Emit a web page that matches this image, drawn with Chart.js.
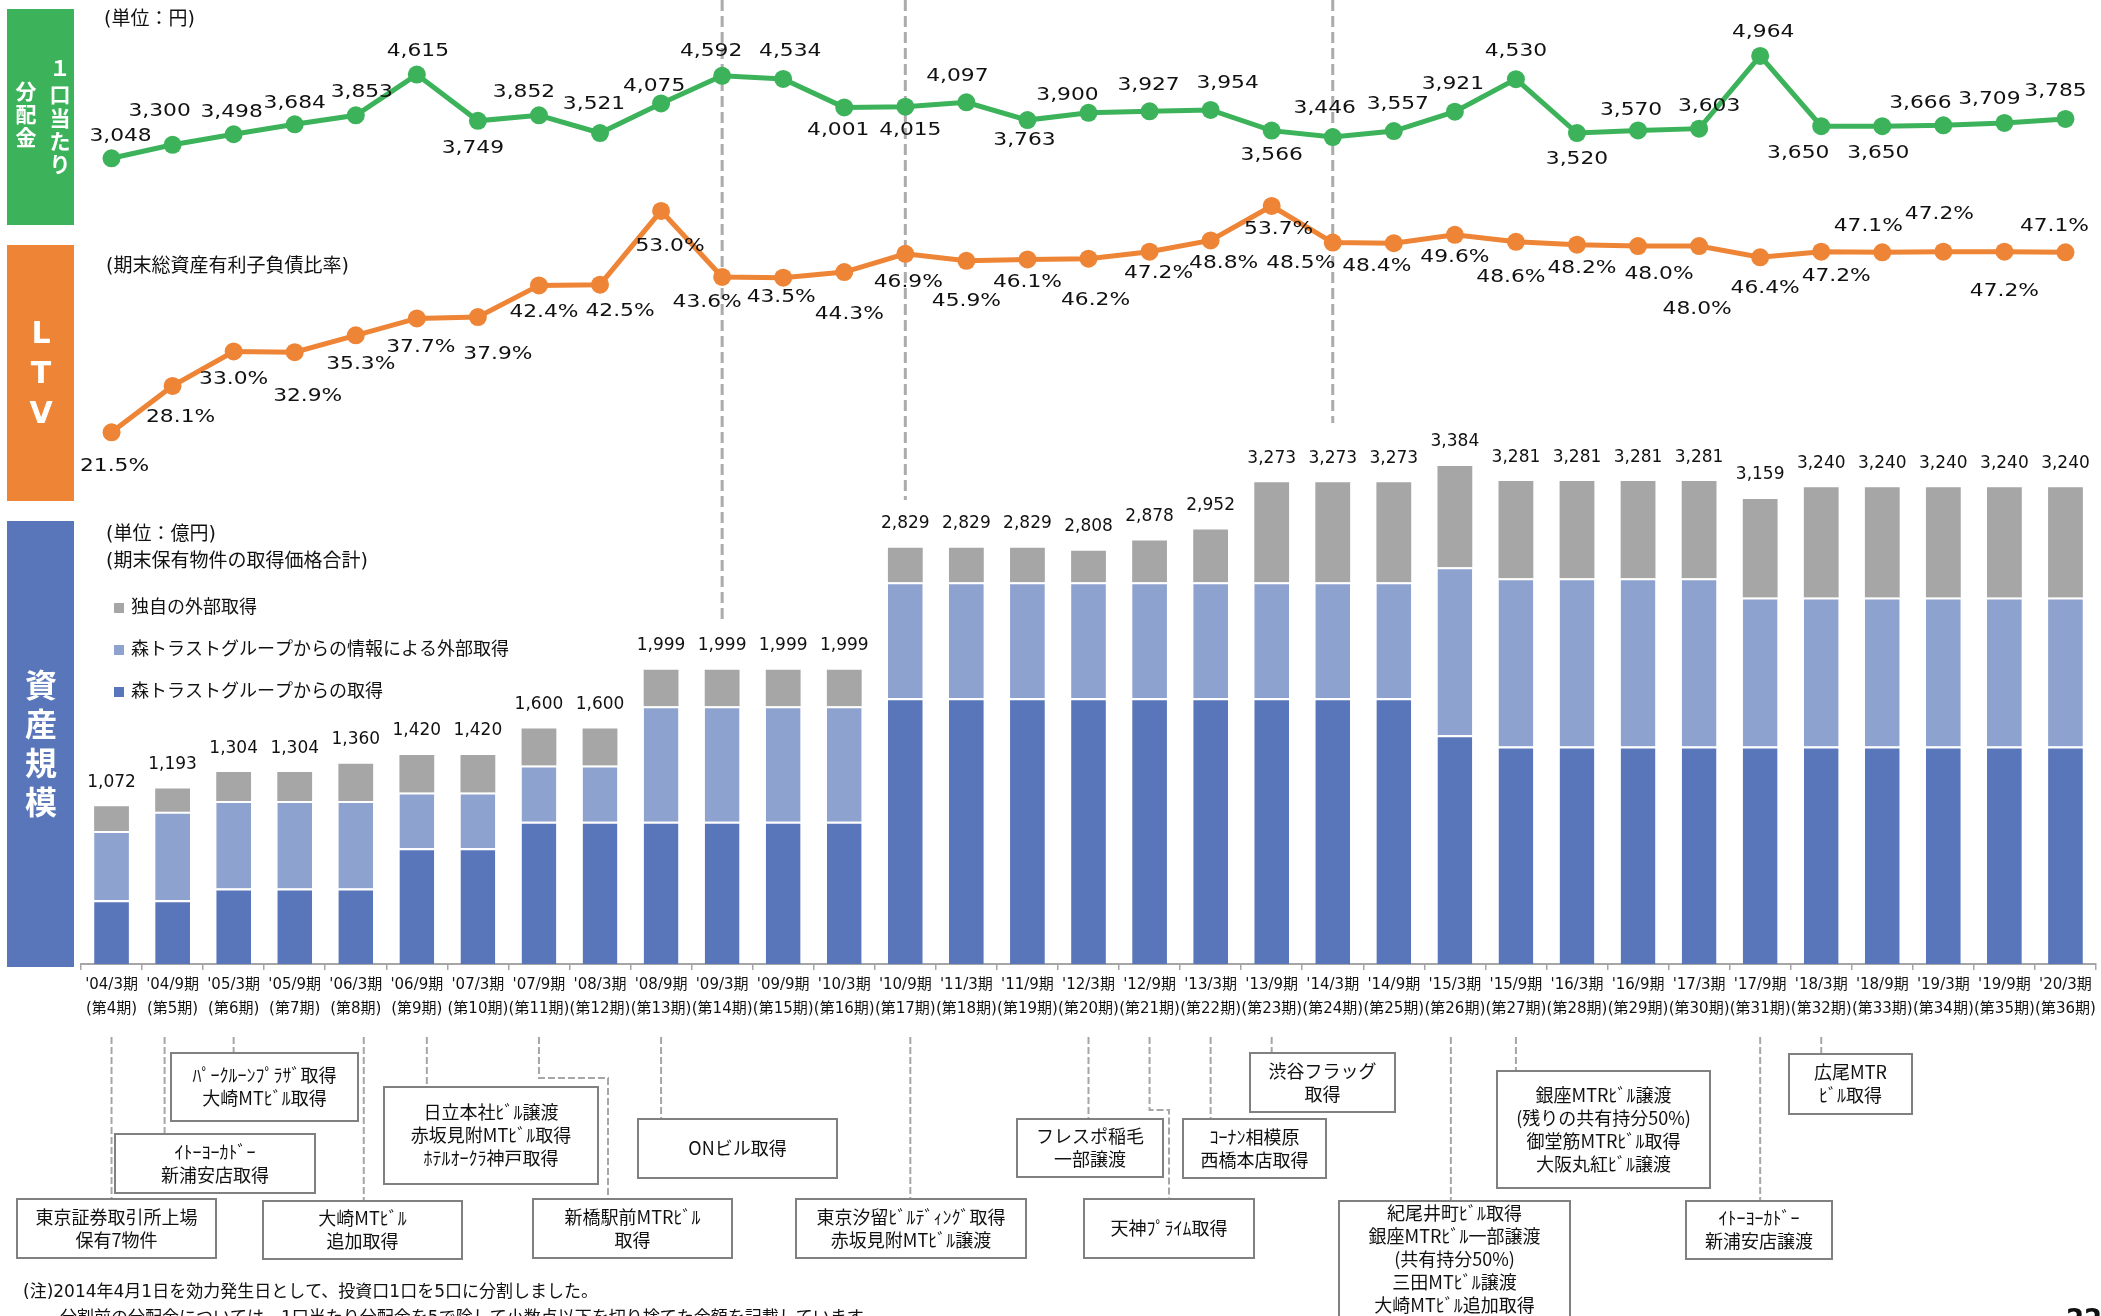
<!DOCTYPE html>
<html lang="ja">
<head>
<meta charset="utf-8">
<title>分配金・LTV・資産規模の推移</title>
<script src="https://cdn.jsdelivr.net/npm/chart.js@4.4.1/dist/chart.umd.min.js"></script>
<style>
  html, body { margin: 0; padding: 0; background: #fff; }
  #wrap { width: 2101px; height: 1316px; position: relative; }
</style>
</head>
<body>
<div id="wrap"><canvas id="chart"></canvas></div>
<script>
// periods (決算期)
const periods = ["'04/3期", "'04/9期", "'05/3期", "'05/9期", "'06/3期", "'06/9期", "'07/3期", "'07/9期", "'08/3期", "'08/9期",
  "'09/3期", "'09/9期", "'10/3期", "'10/9期", "'11/3期", "'11/9期", "'12/3期", "'12/9期", "'13/3期", "'13/9期",
  "'14/3期", "'14/9期", "'15/3期", "'15/9期", "'16/3期", "'16/9期", "'17/3期", "'17/9期", "'18/3期", "'18/9期",
  "'19/3期", "'19/9期", "'20/3期"];
const terms = ["(第4期)", "(第5期)", "(第6期)", "(第7期)", "(第8期)", "(第9期)", "(第10期)", "(第11期)", "(第12期)", "(第13期)",
  "(第14期)", "(第15期)", "(第16期)", "(第17期)", "(第18期)", "(第19期)", "(第20期)", "(第21期)", "(第22期)", "(第23期)",
  "(第24期)", "(第25期)", "(第26期)", "(第27期)", "(第28期)", "(第29期)", "(第30期)", "(第31期)", "(第32期)", "(第33期)",
  "(第34期)", "(第35期)", "(第36期)"];

// 1口当たり分配金 (円)
const distribution = [3048, 3300, 3498, 3684, 3853, 4615, 3749, 3852, 3521, 4075, 4592, 4534, 4001, 4015, 4097, 3763, 3900,
  3927, 3954, 3566, 3446, 3557, 3921, 4530, 3520, 3570, 3603, 4964, 3650, 3650, 3666, 3709, 3785];

// LTV (%)
const ltv = [21.5, 28.1, 33.0, 32.9, 35.3, 37.7, 37.9, 42.4, 42.5, 53.0, 43.6, 43.5, 44.3, 46.9, 45.9, 46.1, 46.2,
  47.2, 48.8, 53.7, 48.5, 48.4, 49.6, 48.6, 48.2, 48.0, 48.0, 46.4, 47.2, 47.1, 47.2, 47.2, 47.1];

// 資産規模 (億円) - stacked parts
const fromGroup = [433, 433, 513, 513, 513, 786, 786, 967, 967, 967, 967, 967, 967, 1806, 1806, 1806, 1806, 1806, 1806,
  1806, 1806, 1806, 1555, 1478, 1478, 1478, 1478, 1478, 1478, 1478, 1478, 1478, 1478];
const viaGroupInfo = [471, 602, 595, 595, 595, 379, 379, 382, 382, 785, 785, 785, 785, 787, 787, 787, 787, 787, 787,
  787, 787, 787, 1141, 1143, 1143, 1143, 1143, 1013, 1013, 1013, 1013, 1013, 1013];
const independent = [168, 158, 196, 196, 252, 255, 255, 251, 251, 247, 247, 247, 247, 236, 236, 236, 215, 285, 359,
  680, 680, 680, 688, 660, 660, 660, 660, 668, 749, 749, 749, 749, 749];
const assetTotals = [1072, 1193, 1304, 1304, 1360, 1420, 1420, 1600, 1600, 1999, 1999, 1999, 1999, 2829, 2829, 2829,
  2808, 2878, 2952, 3273, 3273, 3273, 3384, 3281, 3281, 3281, 3281, 3159, 3240, 3240, 3240, 3240, 3240];

// label nudges (px) so they sit where the slide has them
const distLabelShift = [[9, -22], [-13, -33], [-2, -22], [0, -21], [6, -23], [1, -23], [-5, 28], [-15, -23], [-6, -28],
  [-7, -17], [-11, -24], [7, -27], [-6, 23], [5, 24], [-9, -26], [-3, 20], [-21, -17], [-1, -26], [17, -26], [0, 25],
  [-8, -28], [4, -27], [-2, -27], [0, -28], [0, 27], [-7, -20], [10, -22], [3, -23], [-23, 27], [-4, 27], [-23, -22],
  [-15, -23], [-10, -27]];
const ltvLabelShift = [[3, 34], [8, 32], [0, 28], [13, 44], [5, 29], [4, 29], [20, 38], [5, 27], [20, 27], [9, 36],
  [-15, 26], [-2, 20], [5, 43], [3, 29], [0, 41], [0, 23], [7, 42], [9, 22], [13, 23], [7, 24], [-32, 21], [-17, 23],
  [0, 23], [-5, 36], [5, 24], [21, 29], [-2, 64], [5, 31], [15, 25], [-14, -26], [-4, -37], [0, 40], [-11, -26]];

// events under the axis
const events = [
  { idx: 0, box: [17, 1199, 199, 59], lines: ['東京証券取引所上場', '保有7物件'] },
  { idx: 1, dx: -8, box: [115, 1134, 200, 59], lines: ['ｲﾄｰﾖｰｶﾄﾞｰ', '新浦安店取得'] },
  { idx: 2, box: [171, 1053, 187, 68], lines: ['ﾊﾟｰｸﾙｰﾝﾌﾟﾗｻﾞ取得', '大崎MTﾋﾞﾙ取得'] },
  { idx: 4, dx: 8, box: [263, 1201, 199, 58], lines: ['大崎MTﾋﾞﾙ', '追加取得'] },
  { idx: 5, dx: 10, box: [384, 1087, 214, 97], lines: ['日立本社ﾋﾞﾙ譲渡', '赤坂見附MTﾋﾞﾙ取得', 'ﾎﾃﾙｵｰｸﾗ神戸取得'] },
  { idx: 7, box: [533, 1199, 199, 59], lines: ['新橋駅前MTRﾋﾞﾙ', '取得'], elbow: [1078, 608] },
  { idx: 9, box: [638, 1119, 199, 59], lines: ['ONビル取得'] },
  { idx: 13, dx: 5, box: [796, 1199, 230, 59], lines: ['東京汐留ﾋﾞﾙﾃﾞｨﾝｸﾞ取得', '赤坂見附MTﾋﾞﾙ譲渡'] },
  { idx: 16, box: [1017, 1119, 146, 58], lines: ['フレスポ稲毛', '一部譲渡'] },
  { idx: 17, box: [1084, 1199, 170, 59], lines: ['天神ﾌﾟﾗｲﾑ取得'], elbow: [1110, 1169] },
  { idx: 18, box: [1183, 1119, 143, 59], lines: ['ｺｰﾅﾝ相模原', '西橋本店取得'] },
  { idx: 19, box: [1250, 1053, 145, 59], lines: ['渋谷フラッグ', '取得'] },
  { idx: 22, dx: -4, box: [1339, 1201, 231, 116], lines: ['紀尾井町ﾋﾞﾙ取得', '銀座MTRﾋﾞﾙ一部譲渡', '(共有持分50%)', '三田MTﾋﾞﾙ譲渡', '大崎MTﾋﾞﾙ追加取得'] },
  { idx: 23, box: [1497, 1071, 213, 117], lines: ['銀座MTRﾋﾞﾙ譲渡', '(残りの共有持分50%)', '御堂筋MTRﾋﾞﾙ取得', '大阪丸紅ﾋﾞﾙ譲渡'] },
  { idx: 27, box: [1686, 1201, 146, 58], lines: ['ｲﾄｰﾖｰｶﾄﾞｰ', '新浦安店譲渡'] },
  { idx: 28, box: [1789, 1054, 123, 60], lines: ['広尾MTR', 'ﾋﾞﾙ取得'] }
];

const GREEN = '#3CB35A';
const ORANGE = '#EE8435';
const DARK = '#5A76BA';
const LIGHT = '#8EA2D0';
const GRAY = '#A6A6A6';
const TXT = '#111111';
const LATIN = '"DejaVu Sans", "Noto Sans CJK JP", sans-serif';
const JP = '"Noto Sans CJK JP", sans-serif';

function stretchText(ctx, text, x, y, sx) {
  ctx.save();
  ctx.translate(x, y);
  ctx.scale(sx, 1);
  ctx.fillText(text, 0, 0);
  ctx.restore();
}

function sideBox(ctx, color, x, y, w, h, glyphs, font) {
  ctx.fillStyle = color;
  ctx.fillRect(x, y, w, h);
  ctx.fillStyle = '#fff';
  ctx.font = font;
  ctx.textAlign = 'center';
  ctx.textBaseline = 'middle';
  glyphs.forEach(g => ctx.fillText(g[0], g[1], g[2]));
}

const pagePlugin = {
  id: 'page',
  beforeDraw(chart) {
    const ctx = chart.ctx;
    ctx.save();
    ctx.fillStyle = '#fff';
    ctx.fillRect(0, 0, chart.width, chart.height);

    sideBox(ctx, GREEN, 7, 9, 67, 216, [
      ['１', 60, 68], ['口', 60, 94], ['当', 60, 118], ['た', 60, 141], ['り', 60, 164],
      ['分', 26, 91], ['配', 26, 114], ['金', 26, 137]
    ], 'bold 21px ' + JP);
    sideBox(ctx, ORANGE, 7, 245, 67, 256, [['L', 41, 335], ['T', 41, 375], ['V', 41, 415]], 'bold 30px "DejaVu Sans"');
    sideBox(ctx, DARK, 7, 521, 67, 446, [['資', 41, 685], ['産', 41, 724], ['規', 41, 763], ['模', 41, 802]], 'bold 32px ' + JP);

    ctx.fillStyle = TXT;
    ctx.textAlign = 'left';
    ctx.textBaseline = 'middle';
    ctx.font = '19px ' + LATIN;
    ctx.fillText('(単位：円)', 104, 20);
    ctx.fillText('(期末総資産有利子負債比率)', 106, 267);
    ctx.fillText('(単位：億円)', 106, 535);
    ctx.fillText('(期末保有物件の取得価格合計)', 106, 562);

    // legend for the stacked bars, top segment first
    ctx.font = '18px ' + LATIN;
    [4, 3, 2].forEach((di, k) => {
      const ds = chart.data.datasets[di];
      const cy = 608 + k * 42;
      ctx.fillStyle = ds.backgroundColor;
      ctx.fillRect(114, cy - 5, 10, 10);
      ctx.fillStyle = TXT;
      ctx.fillText(ds.label, 131, cy);
    });
    ctx.restore();
  },
  beforeDatasetsDraw(chart) {
    const ctx = chart.ctx;
    const x = chart.scales.x;
    const guides = [{ idx: 10, to: 623 }, { idx: 13, to: 500 }, { idx: 20, to: 423 }];
    ctx.save();
    ctx.strokeStyle = '#ABABAB';
    ctx.lineWidth = 3;
    ctx.setLineDash([11, 5]);
    guides.forEach(g => {
      const px = x.getPixelForValue(g.idx);
      ctx.beginPath();
      ctx.moveTo(px, 0);
      ctx.lineTo(px, g.to);
      ctx.stroke();
    });
    ctx.restore();
  },
  afterDatasetsDraw(chart) {
    const ctx = chart.ctx;
    ctx.save();
    ctx.fillStyle = TXT;
    ctx.textAlign = 'center';
    ctx.textBaseline = 'middle';
    ctx.font = '17px "DejaVu Sans"';

    chart.getDatasetMeta(0).data.forEach((pt, i) => {
      const s = distLabelShift[i];
      stretchText(ctx, distribution[i].toLocaleString('en-US'), pt.x + s[0], pt.y + s[1], 1.28);
    });
    chart.getDatasetMeta(1).data.forEach((pt, i) => {
      const s = ltvLabelShift[i];
      stretchText(ctx, ltv[i].toFixed(1) + '%', pt.x + s[0], pt.y + s[1], 1.28);
    });
    chart.getDatasetMeta(4).data.forEach((bar, i) => {
      ctx.fillText(assetTotals[i].toLocaleString('en-US'), bar.x, bar.y - 24);
    });
    ctx.restore();
  },
  afterDraw(chart) {
    const ctx = chart.ctx;
    const x = chart.scales.x;
    ctx.save();
    events.forEach(ev => {
      const px = x.getPixelForValue(ev.idx) + (ev.dx || 0);
      const [bx, by, bw, bh] = ev.box;
      ctx.strokeStyle = '#A6A6A6';
      ctx.lineWidth = 2;
      ctx.setLineDash([7, 3]);
      ctx.beginPath();
      ctx.moveTo(px, 1037);
      if (ev.elbow) {
        ctx.lineTo(px, ev.elbow[0]);
        ctx.lineTo(ev.elbow[1], ev.elbow[0]);
        ctx.lineTo(ev.elbow[1], by);
      } else {
        ctx.lineTo(px, by);
      }
      ctx.stroke();

      ctx.setLineDash([]);
      ctx.fillStyle = '#fff';
      ctx.fillRect(bx, by, bw, bh);
      ctx.strokeStyle = '#808080';
      ctx.strokeRect(bx, by, bw, bh);

      ctx.fillStyle = TXT;
      ctx.font = '18px ' + JP;
      ctx.textAlign = 'center';
      ctx.textBaseline = 'middle';
      const n = ev.lines.length;
      ev.lines.forEach((t, k) => {
        ctx.fillText(t, bx + bw / 2, by + bh / 2 + (k - (n - 1) / 2) * 23);
      });
    });

    ctx.fillStyle = TXT;
    ctx.textAlign = 'left';
    ctx.textBaseline = 'middle';
    ctx.font = '17px ' + LATIN;
    ctx.fillText('(注)2014年4月1日を効力発生日として、投資口1口を5口に分割しました。', 23, 1293);
    ctx.fillText('分割前の分配金については、1口当たり分配金を5で除して小数点以下を切り捨てた金額を記載しています。', 60, 1319);
    ctx.font = 'bold 26px "DejaVu Sans"';
    ctx.textBaseline = 'alphabetic';
    ctx.fillText('22', 2066, 1328);
    ctx.restore();
  }
};

new Chart(document.getElementById('chart'), {
  type: 'bar',
  data: {
    labels: periods.map((p, i) => [p, terms[i]]),
    datasets: [
      {
        type: 'line', label: '1口当たり分配金', data: distribution, yAxisID: 'yDist',
        borderColor: GREEN, backgroundColor: GREEN, borderWidth: 5, tension: 0,
        pointRadius: 9, pointHoverRadius: 9, pointBorderWidth: 0, pointBackgroundColor: GREEN, clip: false
      },
      {
        type: 'line', label: 'LTV', data: ltv, yAxisID: 'yLtv',
        borderColor: ORANGE, backgroundColor: ORANGE, borderWidth: 5, tension: 0,
        pointRadius: 9, pointHoverRadius: 9, pointBorderWidth: 0, pointBackgroundColor: ORANGE, clip: false
      },
      {
        label: '森トラストグループからの取得', data: fromGroup, yAxisID: 'yAsset', stack: 'assets',
        backgroundColor: DARK, borderColor: '#fff', borderWidth: { top: 2, left: 0, right: 0, bottom: 0 }, borderSkipped: false
      },
      {
        label: '森トラストグループからの情報による外部取得', data: viaGroupInfo, yAxisID: 'yAsset', stack: 'assets',
        backgroundColor: LIGHT, borderColor: '#fff', borderWidth: { top: 2, left: 0, right: 0, bottom: 0 }, borderSkipped: false
      },
      {
        label: '独自の外部取得', data: independent, yAxisID: 'yAsset', stack: 'assets',
        backgroundColor: GRAY, borderColor: '#fff', borderWidth: 0
      }
    ]
  },
  options: {
    responsive: true,
    maintainAspectRatio: false,
    animation: false,
    events: [],
    barPercentage: 0.57,
    categoryPercentage: 1,
    layout: { autoPadding: false, padding: { left: 81, right: 5, top: 0, bottom: 0 } },
    plugins: { legend: { display: false }, tooltip: { enabled: false } },
    scales: {
      x: {
        stacked: true,
        offset: true,
        grid: { display: true, drawOnChartArea: false, drawTicks: true, tickLength: 6, color: '#A6A6A6', lineWidth: 1.5, offset: true },
        border: { display: true, color: '#A6A6A6', width: 2 },
        ticks: {
          autoSkip: false, maxRotation: 0, minRotation: 0, padding: 3, color: TXT,
          font: { family: LATIN, size: 15, lineHeight: 1.6 }
        },
        afterFit(scale) {
          scale.height = 352;
          scale.paddingLeft = 0;
          scale.paddingRight = 0;
        }
      },
      yDist: { display: false, min: -12040, max: 6012 },
      yLtv: { display: false, min: -54.16, max: 83.01 },
      yAsset: { display: false, stacked: true, min: 0, max: 6550 }
    }
  },
  plugins: [pagePlugin]
});
</script>
</body>
</html>
